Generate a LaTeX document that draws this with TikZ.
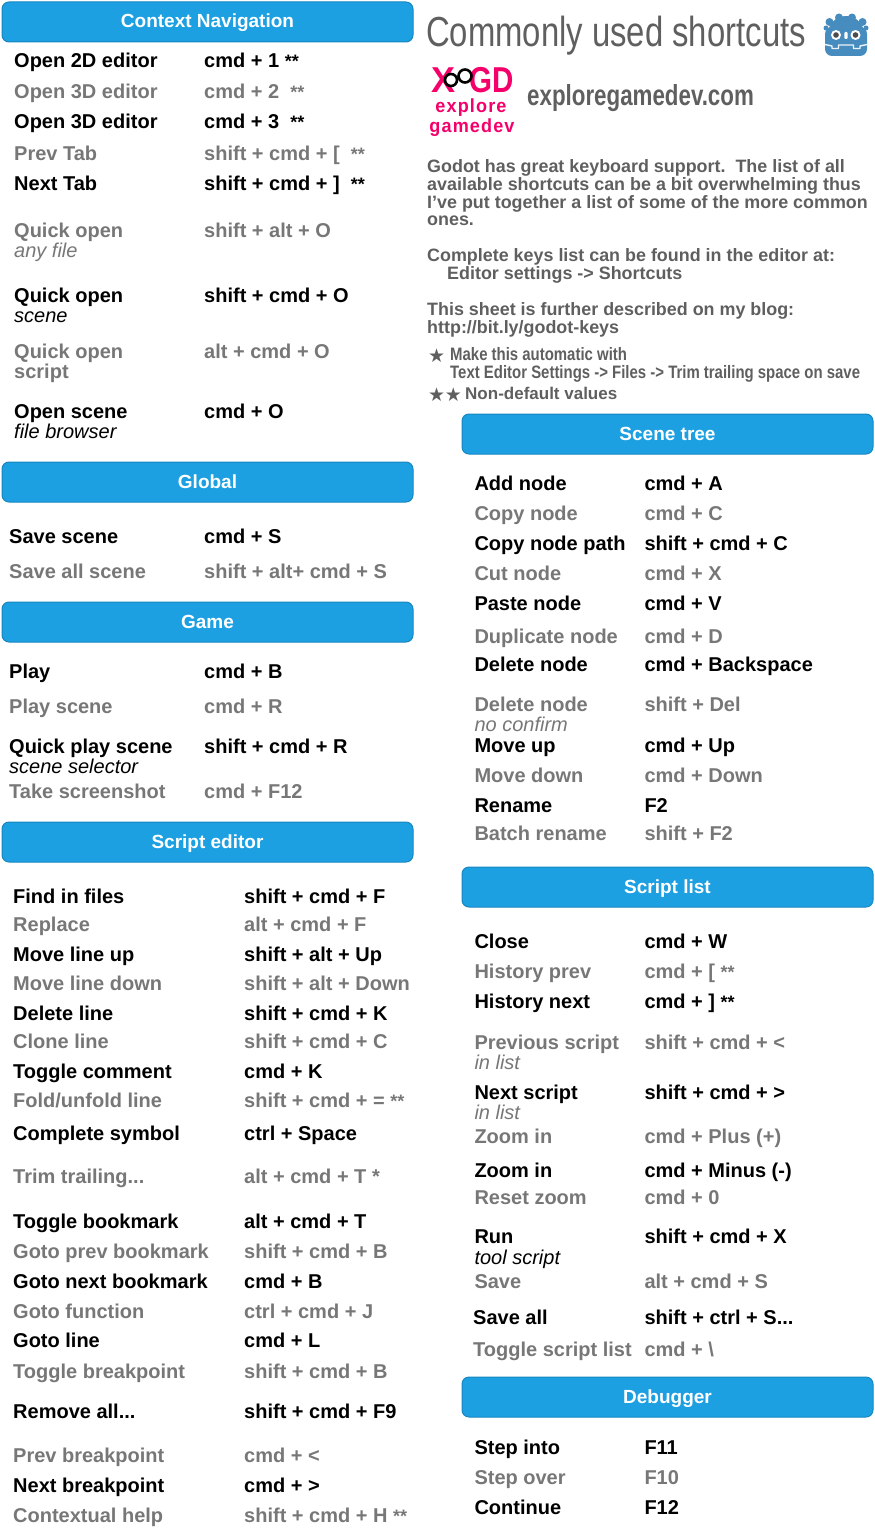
\documentclass[tikz,border=0pt]{standalone}
\usepackage{fontspec}
\setmainfont{Liberation Sans}
\newfontfamily\narrowbold[FakeStretch=0.83]{Liberation Sans Bold}
\newfontfamily\titlefont[FakeStretch=0.782]{Liberation Sans}
\newfontfamily\sitefont[FakeStretch=0.77]{Liberation Sans Bold}
\newfontfamily\logofont[FakeStretch=0.95,LetterSpace=6]{Liberation Sans Bold}
\newfontfamily\logobig[FakeStretch=0.82]{Liberation Sans Bold}
\newfontfamily\symfont{DejaVu Sans}
\definecolor{hdrfill}{HTML}{1CA0E2}
\definecolor{hdrline}{HTML}{1787C0}
\definecolor{gr}{HTML}{777777}
\definecolor{para}{HTML}{5F5F5F}
\definecolor{pink}{HTML}{F5006A}
\definecolor{godot}{HTML}{478CBF}
\tikzset{
  x=1pt,y=-1pt,
  hdrbox/.style={draw=hdrline,fill=hdrfill,line width=1pt,rounded corners=7pt},
  hdrtext/.style={anchor=base,text=white,font=\fontsize{19}{19}\selectfont\bfseries,inner sep=0pt},
  keyt/.style={anchor=base west,inner sep=0pt,font=\fontsize{20}{20}\selectfont\bfseries},
  subt/.style={anchor=base west,inner sep=0pt,font=\fontsize{20}{20}\selectfont\itshape},
  parat/.style={anchor=base west,inner sep=0pt,text=para,font=\fontsize{17.9}{17.9}\selectfont\bfseries},
  notet/.style={anchor=base west,inner sep=0pt,text=para,font=\fontsize{18}{18}\selectfont\narrowbold},
  start/.style={anchor=base,inner sep=0pt,text=para,font=\fontsize{19}{19}\selectfont\symfont},
}
\newcommand{\smst}{{\fontsize{18}{18}\selectfont **}}
\newcounter{rw}
\def\xa{0}\def\xb{0}
\newcommand{\cols}[2]{\def\xa{#1}\def\xb{#2}}
\newcommand{\kblack}[3]{\stepcounter{rw}%
  \node[keyt] (a\therw) at (\xa,#1+7) {#2};
  \node[keyt] (b\therw) at (\xb,#1+7) {#3};}
\newcommand{\kgrey}[3]{\stepcounter{rw}%
  \node[keyt,text=gr] (a\therw) at (\xa,#1+7) {#2};
  \node[keyt,text=gr] (b\therw) at (\xb,#1+7) {#3};}
\newcommand{\subl}[3]{\stepcounter{rw}%
  \node[subt,#3] (s\therw) at (\xa,#1+7) {#2};}
\newcommand{\hdr}[4]{\stepcounter{rw}%
  \draw[hdrbox] (#1,#3) rectangle (#2,#3+40);
  \node[hdrtext] (h\therw) at ({(#1+#2)/2},#3+26) {#4};}
\newcommand{\pl}[2]{\stepcounter{rw}\node[parat] (p\therw) at (#1) {#2};}
\begin{document}
\begin{tikzpicture}
\useasboundingbox (0,0) rectangle (875,1536);
% left column
\hdr{2}{413}{2}{Context Navigation}
\cols{14}{204}
\kblack{61}{Open 2D editor}{cmd + 1 \smst}
\kgrey{91.5}{Open 3D editor}{cmd + 2 \ \smst}
\kblack{121.5}{Open 3D editor}{cmd + 3 \ \smst}
\kgrey{153.5}{Prev Tab}{shift + cmd + [ \ \smst}
\kblack{183.5}{Next Tab}{shift + cmd + ] \ \smst}
\kgrey{230}{Quick open}{shift + alt + O}
\subl{250}{any file}{text=gr}
\kblack{295}{Quick open}{shift + cmd + O}
\subl{315}{scene}{}
\kgrey{351}{Quick open}{alt + cmd + O}
\node[keyt,text=gr] (scr) at (14,378) {script};
\kblack{411}{Open scene}{cmd + O}
\subl{431}{file browser}{}
\hdr{2}{413}{462}{Global}
\cols{9}{204}
\kblack{536}{Save scene}{cmd + S}
\kgrey{571}{Save all scene}{shift + alt+ cmd + S}
\hdr{2}{413}{602}{Game}
\kblack{671}{Play}{cmd + B}
\kgrey{706}{Play scene}{cmd + R}
\kblack{746}{Quick play scene}{shift + cmd + R}
\subl{766}{scene selector}{}
\kgrey{791}{Take screenshot}{cmd + F12}
\hdr{2}{413}{822}{Script editor}
\cols{13}{244}
\kblack{896}{Find in files}{shift + cmd + F}
\kgrey{924}{Replace}{alt + cmd + F}
\kblack{954}{Move line up}{shift + alt + Up}
\kgrey{983}{Move line down}{shift + alt + Down}
\kblack{1013}{Delete line}{shift + cmd + K}
\kgrey{1041}{Clone line}{shift + cmd + C}
\kblack{1071}{Toggle comment}{cmd + K}
\kgrey{1100}{Fold/unfold line}{shift + cmd + = \smst}
\kblack{1133}{Complete symbol}{ctrl + Space}
\kgrey{1176}{Trim trailing...}{alt + cmd + T *}
\kblack{1221}{Toggle bookmark}{alt + cmd + T}
\kgrey{1251}{Goto prev bookmark}{shift + cmd + B}
\kblack{1281}{Goto next bookmark}{cmd + B}
\kgrey{1311}{Goto function}{ctrl + cmd + J}
\kblack{1340}{Goto line}{cmd + L}
\kgrey{1371}{Toggle breakpoint}{shift + cmd + B}
\kblack{1411}{Remove all...}{shift + cmd + F9}
\kgrey{1455}{Prev breakpoint}{cmd + <}
\kblack{1485}{Next breakpoint}{cmd + >}
\kgrey{1515}{Contextual help}{shift + cmd + H \smst}
% title block
\node[anchor=base west,inner sep=0pt,text=para,font=\fontsize{42}{42}\selectfont\titlefont] (title) at (426,47) {Commonly used shortcuts};
\node[anchor=base west,inner sep=0pt,text=para,font=\fontsize{29}{29}\selectfont\sitefont] (site) at (527,106) {exploregamedev.com};
% godot icon
\fill[godot] (839,17.5) circle (4) (852,17.5) circle (4) (829.5,22) circle (4) (862.5,22) circle (4) (826,28) circle (2.5) (866,28) circle (2.5);
\fill[godot] (846,34) circle (18);
\fill[godot,rounded corners=7pt] (825,27) rectangle (867,56);
\draw[white,line width=1.4pt,opacity=.9,line join=round] (825,44.5) -- (832,46) -- (832,48.5) -- (838.5,48.5) -- (838.5,45) -- (853.5,45) -- (853.5,48.5) -- (860,48.5) -- (860,46) -- (867,44.5);
\fill[white] (836,35) circle (5) (855.5,35) circle (5);
\fill[black!70] (836,35) circle (2.8) (855.5,35) circle (2.8);
\fill[white,rounded corners=1pt] (844.3,32) rectangle (847.5,39);
% logo
\node[anchor=base west,inner sep=0pt,text=pink,font=\fontsize{36}{36}\selectfont\bfseries] (lx) at (431,93) {X};
\node[anchor=base west,inner sep=0pt,text=pink,font=\fontsize{36}{36}\selectfont\logobig] (lgd) at (469,93) {GD};
\draw[black,line width=2.6pt,fill=white] (451,80) circle (6);
\draw[black,line width=2.6pt,fill=white] (465,76) circle (6.5);
\draw[black,line width=2.6pt] (456,78) -- (460,77);
\node[anchor=base,inner sep=0pt,text=pink,font=\fontsize{19}{19}\selectfont\logofont] (lex) at (471,113) {explore};
\node[anchor=base,inner sep=0pt,text=pink,font=\fontsize{19}{19}\selectfont\logofont] (lga) at (472,132) {gamedev};
% paragraph
\pl{427,172}{Godot has great keyboard support.\ \ The list of all}
\pl{427,190}{available shortcuts can be a bit overwhelming thus}
\pl{427,208}{I've put together a list of some of the more common}
\pl{427,225}{ones.}
\pl{427,261}{Complete keys list can be found in the editor at:}
\pl{447,279}{Editor settings -> Shortcuts}
\pl{427,315}{This sheet is further described on my blog:}
\pl{427,333}{http://bit.ly/godot-keys}
\node[notet] (n1) at (450,360) {Make this automatic with};
\node[notet] (n2) at (450,378) {Text Editor Settings -> Files -> Trim trailing space on save};
\node[parat,font=\fontsize{17}{17}\selectfont\bfseries] (n3) at (465,399) {Non-default values};
\node[start] (st1) at (436.7,362) {★};
\node[start] (st2) at (436.7,401) {★};
\node[start] (st3) at (453.3,401) {★};
% right column
\hdr{462}{873}{414}{Scene tree}
\cols{474.3}{644.3}
\kblack{483}{Add node}{cmd + A}
\kgrey{513}{Copy node}{cmd + C}
\kblack{543}{Copy node path}{shift + cmd + C}
\kgrey{573}{Cut node}{cmd + X}
\kblack{603}{Paste node}{cmd + V}
\kgrey{636}{Duplicate node}{cmd + D}
\kblack{664}{Delete node}{cmd + Backspace}
\kgrey{704}{Delete node}{shift + Del}
\subl{724}{no confirm}{text=gr}
\kblack{745}{Move up}{cmd + Up}
\kgrey{775}{Move down}{cmd + Down}
\kblack{805}{Rename}{F2}
\kgrey{833}{Batch rename}{shift + F2}
\hdr{462}{873}{867}{Script list}
\kblack{941}{Close}{cmd + W}
\kgrey{971}{History prev}{cmd + [ \smst}
\kblack{1001}{History next}{cmd + ] \smst}
\kgrey{1042}{Previous script}{shift + cmd + <}
\subl{1062}{in list}{text=gr}
\kblack{1092}{Next script}{shift + cmd + >}
\subl{1112}{in list}{text=gr}
\kgrey{1136}{Zoom in}{cmd + Plus (+)}
\kblack{1170}{Zoom in}{cmd + Minus (-)}
\kgrey{1197}{Reset zoom}{cmd + 0}
\kblack{1236}{Run}{shift + cmd + X}
\subl{1257}{tool script}{}
\kgrey{1281}{Save}{alt + cmd + S}
\cols{473}{644.3}
\kblack{1317}{Save all}{shift + ctrl + S...}
\kgrey{1349}{Toggle script list}{cmd + \textbackslash}
\cols{474.3}{644.3}
\hdr{462}{873}{1377}{Debugger}
\kblack{1447}{Step into}{F11}
\kgrey{1477}{Step over}{F10}
\kblack{1507}{Continue}{F12}
\end{tikzpicture}
\end{document}
